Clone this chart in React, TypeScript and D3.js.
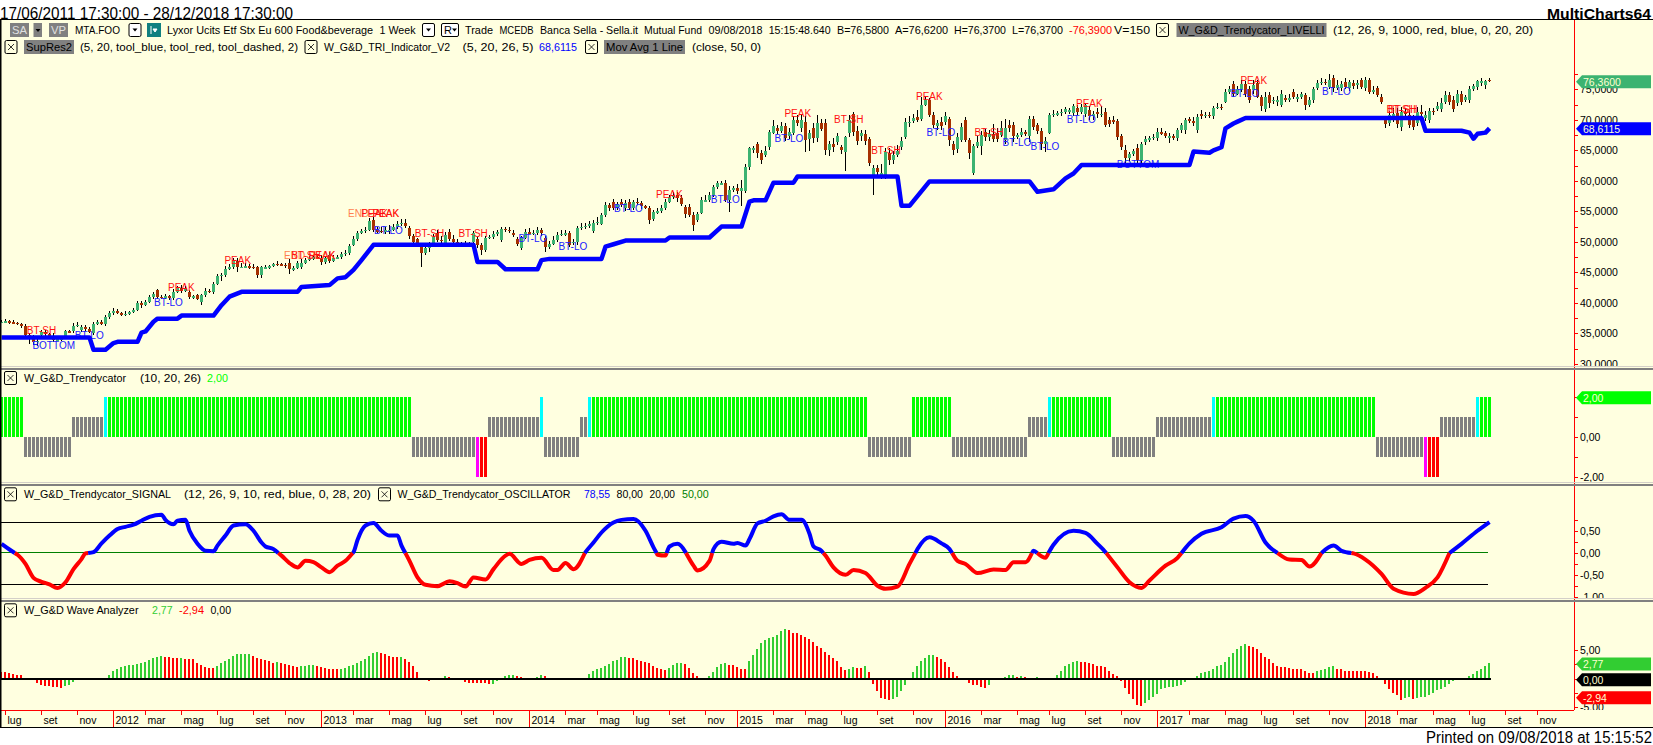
import React from 'react';
import * as d3 from 'd3';

// ---------- price panel ----------
const closes = [
36.9,37.0,36.8,36.7,36.5,36.2,34.7,34.2,33.6,33.8,
35.2,34.9,34.6,33.9,34.0,34.2,35.3,35.2,36.2,36.4,
36.0,35.7,35.2,36.6,36.8,36.6,37.6,38.3,38.7,38.3,
38.1,38.2,38.5,38.9,40.0,39.6,40.2,41.0,41.5,41.0,
40.9,41.1,40.8,41.8,42.4,42.0,42.5,41.0,41.1,40.7,
41.3,42.0,41.8,43.1,44.4,44.6,45.6,45.8,46.8,45.9,
45.9,46.0,45.8,45.8,44.5,45.8,45.8,46.0,46.3,46.3,
46.2,46.0,45.5,45.7,46.6,46.6,47.0,47.2,47.5,47.4,
46.7,47.4,46.9,47.4,47.5,48.0,48.2,49.3,50.5,51.5,
51.8,52.0,53.4,51.9,51.8,51.7,51.9,52.0,52.5,52.9,
53.1,52.6,50.9,50.0,49.8,48.2,49.0,49.7,50.8,50.3,
50.2,51.1,50.4,50.0,49.6,49.7,49.6,49.6,51.4,49.5,
48.6,50.6,50.8,51.2,51.6,52.1,52.0,51.8,51.2,49.7,
50.6,51.6,51.4,51.5,51.9,51.4,49.1,49.7,50.3,51.1,
51.3,51.4,49.5,50.0,52.2,52.5,52.6,52.9,53.1,53.3,
54.4,56.0,55.5,55.5,56.2,56.0,56.4,55.5,56.6,56.3,
55.8,55.6,53.6,54.9,55.0,55.5,56.6,57.4,57.7,57.1,
56.2,54.6,54.4,52.8,54.5,56.8,56.8,57.6,59.0,59.6,
59.6,56.8,58.5,58.8,58.3,58.8,62.3,65.3,65.3,64.5,
63.4,64.9,68.0,69.0,68.2,69.0,67.0,68.0,70.0,69.5,
70.0,66.7,67.9,67.0,69.4,68.5,65.0,66.1,65.5,67.3,
65.1,67.1,69.9,68.0,66.5,67.9,66.5,62.9,62.1,61.5,
61.3,64.8,63.4,64.3,64.9,66.5,69.7,69.7,70.3,70.0,
72.5,73.2,70.8,69.2,69.4,69.0,70.6,66.7,65.0,67.2,
68.9,66.7,64.5,65.7,66.4,67.5,67.2,67.7,66.9,66.8,
68.6,68.6,68.6,67.3,67.5,68.0,67.9,70.1,68.9,68.2,
66.1,66.5,70.8,71.0,71.1,71.3,71.7,71.6,72.2,71.3,
72.1,72.4,70.6,71.0,71.0,71.0,69.2,69.3,69.7,67.2,
65.5,63.7,64.4,64.9,63.4,66.0,66.8,67.0,67.2,68.0,
67.8,67.3,67.3,67.0,68.3,69.2,69.9,69.8,69.7,70.5,
70.6,70.8,70.7,72.0,72.1,71.9,74.6,75.1,74.3,75.0,
75.8,74.3,73.2,75.7,73.8,72.3,73.7,72.7,73.3,73.2,
74.2,73.3,73.6,73.7,73.8,74.2,72.4,73.3,75.0,76.0,
76.2,76.1,76.6,75.2,75.7,75.9,75.4,76.2,75.6,76.0,
75.4,76.5,74.6,74.9,74.1,73.0,69.3,70.8,71.0,69.3,
71.3,71.0,69.2,68.8,71.3,71.0,70.8,71.5,71.3,72.2,
72.8,74.0,73.0,71.7,74.3,73.0,73.7,75.1,75.5,76.4,
76.4,76.4,76.36];

const opens = [
36.8,36.9,37.0,36.8,36.7,36.5,36.2,34.7,34.2,33.6,
34.7,35.2,34.9,34.6,33.9,34.0,34.3,35.3,35.3,36.2,
35.5,36.0,35.7,35.0,36.6,36.8,36.5,37.6,38.3,38.7,
38.3,38.1,38.2,38.5,38.9,40.0,39.6,40.2,41.0,42.1,
41.0,40.9,41.1,40.8,41.8,42.4,42.0,41.8,41.0,41.2,
40.2,41.3,42.0,41.7,43.1,44.4,44.6,45.6,45.8,46.9,
45.9,45.9,46.0,45.9,45.8,44.5,45.8,45.8,46.0,46.4,
46.3,46.2,46.6,45.5,45.7,45.8,46.6,47.0,47.2,47.5,
47.4,46.7,47.8,46.9,47.4,47.5,48.0,48.2,49.5,50.5,
51.5,51.8,52.0,53.5,51.9,51.8,51.7,51.9,52.0,52.5,
52.9,53.1,52.2,50.9,50.4,49.1,48.2,49.0,49.7,51.4,
50.3,49.8,51.6,50.4,50.0,49.6,49.7,49.6,49.9,50.4,
49.5,48.6,50.6,50.8,51.2,50.3,52.1,52.0,51.4,50.5,
49.0,50.6,51.6,51.4,51.5,51.9,50.6,49.1,49.7,50.3,
51.1,51.3,51.4,49.8,50.0,52.2,52.5,52.6,51.8,53.1,
53.0,54.4,56.0,56.6,55.5,56.5,55.5,56.6,55.5,56.6,
56.3,55.8,55.5,53.7,54.9,55.0,55.5,56.6,57.4,57.7,
57.2,55.7,55.7,54.4,53.5,54.8,56.8,56.8,57.6,59.0,
59.6,59.6,56.8,58.5,58.8,58.3,58.4,62.2,65.3,66.0,
64.6,64.3,65.5,67.9,68.7,68.2,69.0,67.3,67.8,70.0,
68.6,69.7,66.9,68.6,67.0,69.4,69.4,65.1,66.1,66.4,
65.5,64.8,67.8,70.9,68.2,67.3,67.7,66.8,61.0,62.1,
60.9,60.9,64.5,63.4,64.3,65.5,67.1,69.5,69.8,70.5,
70.1,72.5,73.2,70.8,69.0,69.6,69.6,70.1,66.0,65.2,
66.7,70.0,66.7,61.2,65.7,65.7,68.0,67.2,67.7,67.9,
67.5,66.7,69.1,69.1,67.3,67.5,68.0,67.3,70.2,69.2,
68.2,66.1,67.8,70.8,71.0,71.1,71.3,71.2,71.1,72.0,
71.3,71.0,71.6,70.7,71.2,71.0,71.3,70.0,70.0,69.8,
67.3,65.0,63.7,64.4,65.3,63.4,66.3,66.8,67.0,67.0,
68.0,67.8,67.1,67.3,67.0,68.3,68.3,70.2,69.8,68.3,
71.0,70.6,70.8,70.6,72.0,72.1,73.0,74.6,75.8,74.3,
75.0,75.8,75.1,74.9,76.1,73.7,71.7,74.0,73.1,73.2,
72.4,73.6,73.3,74.6,73.4,73.8,74.0,72.4,73.2,75.2,
76.0,76.2,75.4,76.8,75.2,75.2,76.2,75.2,76.1,75.7,
76.5,75.2,76.5,74.6,75.2,73.7,70.1,69.4,70.2,71.1,
68.9,71.3,70.8,70.1,69.4,71.3,70.3,70.0,71.5,71.7,
71.7,73.0,74.1,73.3,72.7,74.3,73.2,73.3,75.1,75.4,
76.0,75.7,76.6];

const wickUp = [
.2,.3,.2,.3,.2,.2,.3,.4,.5,.4,
.4,.3,.2,.5,.3,.3,.3,.3,.5,.4,
.4,.3,.3,.3,.3,.3,.4,.3,.5,.3,
.2,.4,.2,.3,.3,.3,.2,.3,.3,.2,
.3,.4,.2,.4,.3,.5,.3,.3,.2,.3,
.2,.4,.3,.3,.3,.3,.4,.5,.5,.4,
.6,.5,.3,.4,.3,.2,.4,.2,.3,.4,
.3,.4,.6,.3,.2,.5,.3,.4,.3,.3,
.4,.3,.5,.4,.3,.3,.4,.4,.5,.3,
.3,.4,.5,.6,.6,.7,.5,.8,.5,.5,
.7,.6,.4,.4,.3,.4,.3,.3,.5,.5,
.6,.5,.5,.7,.4,.3,.5,.4,.4,.4,
.3,.4,.3,.5,.4,.3,.4,.5,.5,.3,
.4,.5,.6,.5,.6,.4,.3,.5,.6,.5,
.7,.5,.3,.4,.4,.6,.5,.5,.4,.7,
.4,.5,.3,.4,.4,.5,.5,.4,.3,.5,
.4,.3,.4,.3,.5,.6,.4,.3,.4,.5,
.5,.4,.5,.5,.4,.6,.9,.5,.3,.4,
.3,.6,.6,.4,.6,1.4,.4,.3,.4,.4,
.5,.8,.3,.9,.5,.7,.5,.6,.7,.8,
.9,1.0,.4,.8,1.4,.8,.7,.5,.9,.6,
.3,.3,.9,.4,.8,.5,.6,.3,.5,.5,
1.4,.5,.9,.6,.9,.6,.6,.9,.6,1.1,
1.3,.6,.4,.5,.6,.9,.6,.4,.5,.6,
.5,.4,.3,.4,.9,.6,.5,.7,1.6,.7,
1.2,1.5,.9,.6,.4,.6,.4,.5,.5,.3,
.4,.6,.3,.6,.4,.5,.4,.3,.4,.5,
.5,.4,.6,.4,.8,1.2,.6,.4,.6,.4,
.3,.8,.4,.3,.7,.3,.6,.3,.4,.6,
.7,.3,.5,.3,.4,.3,.4,.3,.6,.5,
.6,.4,.4,.3,.7,.5,.4,.5,.6,.6,
.7,.5,.4,.9,.4,.3,.8,.5,.5,.7,
.7,.4,.6,.4,.5,.3,.4,.5,.3,.5,
.6,.5,.9,.5,.8,.5,.7,.4,.5,.5,
.4,.5,.4,.6,.4,.5,.6,.7,.9,.8,
.8,.6,.8,.7,.8,1.2,.6,.5,.4,.7,
.7,.7,.5,.6,.6,.5,.4,.4,.4,.2,
.4,.2,.3];

const wickDown = [
.1,.2,.3,.2,.1,.3,.3,.9,.5,.6,
.3,.5,.3,.4,.2,.3,.2,.2,.3,.2,
.3,.3,.2,.3,.3,.2,.3,.2,.3,.2,
.2,.3,.2,.2,.3,.4,.2,.3,.4,.3,
.3,.2,.3,.3,.2,.4,.2,.3,.4,.3,
.6,.3,.2,.2,.2,.8,.3,.3,.2,.8,
.2,.2,.3,.2,.4,.5,.2,.3,.2,.2,
.2,.3,.7,.3,.2,.3,.3,.2,.2,.2,
.5,.3,.4,.2,.3,.3,.3,.4,.2,.3,
.2,.3,.3,.3,.4,.3,.5,.6,.3,.4,
.3,.4,.4,.2,.3,2.3,.3,.6,.3,.3,
.5,.4,.3,.3,.2,.5,.3,.3,.3,.5,
.7,.3,.2,.3,.3,.3,.4,.3,.4,.4,
.3,.2,.2,.3,.4,.4,.8,.3,.3,.4,
.2,.3,.3,.3,.5,.3,.4,.3,.4,.3,
.3,.4,.5,.3,.3,.3,.4,.3,.3,.3,
.4,.3,.6,.3,.3,.3,.3,.3,.4,.5,
.4,.7,.3,1.1,.3,.3,.3,.2,.3,.3,
.3,.3,1.9,.3,.4,2.5,.4,.5,.7,.7,
.6,.4,.4,.3,.6,.4,.4,.5,.3,.5,
.6,1.9,2.0,.8,.6,.4,.8,1.0,.8,.5,
.7,3.2,.6,.6,.7,.7,.6,.4,3.4,.5,
.6,.6,.8,.6,.4,.5,.3,.7,.3,.4,
.3,.3,.4,.5,.6,.6,.5,1.0,.8,.7,
.4,.4,.9,.3,.4,1.5,.7,.6,.5,.5,
.4,.7,.6,1.0,.5,.4,.6,.9,.5,.6,
1.0,1.3,.2,.3,.3,.4,.3,.3,.4,.5,
.4,.5,.6,.8,.7,.5,.4,.4,.4,.5,
.5,.7,.4,.4,.5,.4,.4,.4,.3,.5,
.3,.3,.9,.3,.5,.4,.7,.4,.7,.4,
.4,.3,.4,.5,.3,.3,.3,.3,.5,.3,
.4,.5,.5,.7,.3,.8,.4,.7,.5,.9,
.3,.4,.4,.3,.4,.4,.8,.3,.4,.3,
.3,.4,.3,.6,.3,.4,.3,.5,.5,.6,
.3,.4,.3,.3,.4,.4,.6,.4,.5,.6,
.7,.4,.6,.4,.4,.3,.5,.6,.5,.3,
.4,.4,.6,.4,.5,.5,.3,.6,.3,.5,
.5,.6,.2];

const triBars = [0,22,23,26,28,29,34,35,36,38,39,44,45,53,55,57,60,74,75,82,84,86,88,90,93,118,119,124,126,134,135,137,150,151,153,156,166,167,177,180,185,187,188,191,193,198,199,224,225,227,232,257,259,263,266,268,270,297,298,302,303,305,306,308,309,311,355,356,365,367,368,369,371,372];
const triValues = [34.3,34.3,32.3,32.3,33.4,33.6,33.6,35.1,35.3,36.9,37.4,37.4,37.9,37.9,39.6,41,41.8,41.8,42.6,42.9,44,44.2,45.4,47,49.5,49.5,46.7,46.7,45.5,45.5,47,47.2,47.2,49.2,49.6,50.2,50.2,50.7,50.7,52.5,52.5,56.6,56.8,56.8,59.7,59.7,60.7,60.7,55.9,55.9,59.9,59.9,58.2,58.6,60.4,61.2,62.6,62.6,64.8,64.6,65,65.5,68.6,69.4,69.7,70.3,70.3,68.2,68.2,67.9,66.9,67.7,67.9,68.6];

const signalTexts = ['BT-SH','BOTTOM','BT-LO','BT-LO','PEAK','PEAK','END-PEAK','BT-SH','PEAK','END-PEAK','PEAK','PEAK','BT-LO','BT-SH','BT-SH','BT-LO','BT-LO','BT-LO','PEAK','BT-LO','BT-LO','PEAK','BT-SH','BT-SH','PEAK','BT-LO','BT-SH','BT-LO','BT-LO','BT-LO','PEAK','BOTTOM','PEAK','BT-LO','BT-LO','BT-SH','BT-SH'];
const signalBars = [6.7,8.1,18.7,38.5,42,56.1,71,72.8,77.2,87,90.3,93.1,93.5,103.7,114.6,129.6,139.6,153.5,164,177.7,193.6,196.1,208.5,217.8,229,231.6,243.6,250.6,257.6,266.7,269,279.2,310.1,307.6,330.5,346.6,347];
const signalPrices = [35.4,33,34.7,40.1,42.5,47,47.8,47.8,47.8,54.6,54.6,54.6,51.8,51.3,51.3,50.6,49.3,55.5,57.8,57,67,71,70.1,65,73.9,68,68,66.3,65.6,70,72.6,62.6,76.5,74.3,74.6,71.7,71.7];

// ---------- trend panel ----------
const trendRunKinds = ['up','weakDown','weakUp','turnUp','up','weakDown','turnDown','down','weakUp','turnUp','weakDown','weakUp','turnUp','up','weakDown','up','weakDown','weakUp','turnUp','up','weakDown','weakUp','turnUp','up','weakDown','turnDown','down','weakUp','turnUp','up'];
const trendRunLengths = [6,12,8,1,76,16,1,2,13,1,9,2,1,69,11,10,19,5,1,15,11,14,1,40,12,1,3,9,1,3];
const trendKindValue: Record<string, number> = { up: 2, weakUp: 1, turnUp: 2, weakDown: -1, turnDown: -2, down: -2 };
const trendKindColor: Record<string, string> = { up: '#00ff00', weakUp: '#808080', turnUp: '#00ffff', weakDown: '#808080', turnDown: '#ff00ff', down: '#ff0000' };

// ---------- signal panel ----------
const signalLineBars = [0,2,4,6,8,10,12,14,16,18,20,21,23,25,27,29,31,33,35,37,40,41,43,44,46,47,49,51,53,54,56,58,61,63,65,66,68,70,72,74,76,78,80,82,84,86,88,89,91,93,95,97,99,100,102,104,106,109,112,114,116,118,121,123,126,127,130,132,135,138,139,141,143,146,148,150,153,155,158,161,163,164,166,167,169,171,173,174,177,178,180,183,184,186,187,189,191,193,195,197,200,202,203,205,206,208,211,213,216,219,221,224,227,229,232,235,237,239,241,244,248,251,253,256,258,261,263,268,271,274,276,279,282,285,287,291,294,297,300,305,308,311,313,316,319,322,325,327,330,333,335,338,341,345,348,353,356,359,362,365,369,372];
const signalLineValues = [.21,.08,-.04,-.25,-.57,-.66,-.72,-.8,-.67,-.37,-.14,-.01,.02,.22,.4,.55,.6,.65,.74,.83,.88,.76,.66,.74,.76,.51,.21,.05,.04,.17,.4,.63,.66,.51,.24,.15,.09,-.06,-.23,-.33,-.18,-.21,-.33,-.44,-.29,-.18,.02,.3,.63,.69,.51,.4,.4,.17,-.18,-.56,-.73,-.76,-.65,-.69,-.77,-.56,-.61,-.37,-.06,-.02,-.25,-.16,-.11,-.39,-.39,-.23,-.37,.02,.24,.47,.7,.76,.78,.51,.13,-.04,-.06,.15,.21,.02,-.29,-.4,-.18,.09,.26,.21,.23,.17,.32,.68,.74,.84,.89,.76,.76,.44,.15,.05,-.06,-.33,-.5,-.39,-.46,-.75,-.82,-.77,-.25,.09,.36,.22,.09,-.18,-.25,-.46,-.38,-.39,-.21,-.21,.05,-.11,.19,.51,.46,.21,.02,-.33,-.67,-.8,-.63,-.29,-.11,.22,.44,.59,.79,.85,.74,.24,0,-.15,-.16,-.31,0,.17,.05,-.01,-.15,-.48,-.82,-.94,-.8,-.56,0,.21,.51,.71];
const signalLevels = [0.7, -0.7];

// ---------- wave panel ----------
const waveValues = [
1.22,1.10,.93,.81,.70,.58,.17,0,-.29,-.70,
-1.16,-1.28,-1.28,-1.40,-1.45,-1.57,-1.34,-1.05,-.58,-.23,
0,0,0,0,0,0,.17,.70,1.28,1.69,
2.03,2.21,2.33,2.38,2.56,2.73,2.97,3.26,3.60,3.78,
3.90,3.84,3.72,3.66,3.60,3.66,3.49,3.37,3.37,2.79,
2.44,2.09,1.92,1.92,2.21,2.67,3.14,3.49,3.90,4.24,
4.30,4.30,4.30,3.95,3.60,3.37,3.31,3.02,2.79,2.91,
2.67,2.56,2.33,2.21,2.09,2.15,2.21,2.33,2.33,2.15,
2.03,1.92,1.74,1.63,1.63,1.74,1.92,2.15,2.38,2.67,
3.02,3.49,3.95,4.42,4.65,4.53,4.30,3.90,3.72,3.72,
3.78,3.49,2.91,2.21,1.16,0,-.23,-.47,0,0,
.17,.41,.23,0,0,-.29,-.58,-.70,-.70,-.70,
-.70,-.70,-.93,-.87,-.47,0,.47,.58,.64,.47,
.35,0,0,.17,.35,.70,.47,.17,0,0,
0,0,0,0,0,0,.17,.76,1.28,1.63,
1.86,2.15,2.56,3.02,3.31,3.78,3.78,3.60,3.60,3.26,
3.14,2.91,2.67,2.21,1.86,1.69,1.57,1.86,2.33,2.67,
2.67,2.56,1.86,.99,.41,0,0,.41,1.16,2.03,
2.56,2.67,2.33,2.33,2.09,1.74,1.74,3.02,4.07,5.11,
6.16,6.74,7.09,7.32,7.67,8.25,8.60,8.42,7.96,7.90,
7.55,7.32,6.86,6.39,5.69,5.35,4.65,4.18,3.60,3.02,
2.03,1.51,1.74,2.09,1.92,1.92,2.15,1.16,-.87,-2.09,
-3.31,-3.60,-3.78,-3.60,-3.20,-2.21,-1.16,0,1.16,2.15,
3.02,3.60,4.07,4.07,3.72,3.49,2.91,1.98,1.16,.47,
.17,0,-.70,-1.05,-1.10,-1.40,-1.57,-1.05,-.17,0,
0,.23,.58,.58,.23,.47,.23,0,0,.23,
0,0,0,0,.58,1.28,2.15,2.56,2.91,3.08,
2.91,2.91,2.73,2.56,2.21,2.21,1.98,1.28,.90,.41,
-.35,-1.63,-2.62,-3.49,-4.65,-4.71,-4.24,-3.66,-3.20,-2.62,
-1.74,-1.57,-1.40,-1.40,-1.28,-1.05,-.58,0,.17,.47,
.93,1.10,1.40,1.74,2.21,2.44,2.91,3.84,4.42,5.11,
5.64,6.04,5.64,5.46,5.23,4.42,3.78,3.37,2.67,2.21,
2.09,2.09,1.86,1.74,1.74,1.63,1.40,1.05,1.05,1.28,
1.51,1.74,2.09,2.21,1.74,1.74,1.40,1.40,1.28,1.28,
1.28,1.28,1.16,.93,.47,0,-.87,-1.74,-2.56,-2.91,
-3.78,-3.31,-3.25,-3.49,-3.31,-3.20,-3.14,-2.79,-2.44,-1.98,
-1.74,-1.45,-.87,-.41,0,0,0,.41,.87,1.28,
1.74,2.21,2.77];

// ---------- axes ----------
const priceTicks = [75,70,65,60,55,50,45,40,35,30];
const priceMinorTicks = [77.5,75,72.5,70,67.5,65,62.5,60,57.5,55,52.5,50,47.5,45,42.5,40,37.5,35,32.5,30];
const trendLabelTicks = [0,-2];
const trendMinorTicks = [2,1,0,-1,-2];
const signalLabelTicks = [0.5,0,-0.5,-1];
const signalMinorTicks = [0.75,0.5,0.25,0,-0.25,-0.5,-0.75,-1];
const waveLabelTicks = [5,-5];
const waveMinorTicks = [5,2.5,0,-2.5,-5];
const monthNames = ['', '', 'mar', '', 'mag', '', 'lug', '', 'set', '', 'nov', ''];
const firstBarDate = new Date(Date.UTC(2011, 5, 24));
const axisBarCount = 392;

const FONT = "'Liberation Sans', Arial, sans-serif";
const BG = '#ffffe0';
const axisRight = 1574;

const xEdge = d3.scaleLinear().domain([0, 1]).range([0, 4]);
const xMid = (k: number) => xEdge(k) + 1.5;
const yPrice = d3.scaleLinear().domain([75, 30]).range([89.3, 363.8]);
const yTrend = d3.scaleLinear().domain([2, -2]).range([397, 477]);
const ySignal = d3.scaleLinear().domain([1, -1]).range([509.4, 596.6]);
const yWave = d3.scaleLinear().domain([5, -5]).range([650, 707.4]);

const comma = (v: number, d: number) => v.toFixed(d).replace('.', ',');

type TP = { x: number; y: number; len?: number; fill?: string; size?: number; weight?: string; anchor?: string; children: any };
const T = ({ x, y, len, fill = '#000', size = 11, weight, anchor, children }: TP) => (
  <text x={x} y={y} fill={fill} fontSize={size} fontWeight={weight} textAnchor={anchor as any} dominantBaseline="central" fontFamily={FONT}
    {...(len ? { textLength: len, lengthAdjust: 'spacingAndGlyphs' } : {})}>{children}</text>
);

const XBox = ({ x, y, w = 13 }: { x: number; y: number; w?: number }) => (
  <g>
    <rect x={x + 0.5} y={y - 6.5} width={w - 1} height={13} rx={1.5} fill="none" stroke="#000" />
    <path d={`M${x + w / 2 - 3},${y - 3}L${x + w / 2 + 3},${y + 3}M${x + w / 2 + 3},${y - 3}L${x + w / 2 - 3},${y + 3}`} stroke="#000" strokeWidth={0.8} />
  </g>
);
const Gray = ({ x, y, w, text, color = '#808080', fg = '#000', len }: any) => (
  <g>
    <rect x={x} y={y - 7} width={w} height={14} fill={color} />
    <T x={x + 2} y={y} fill={fg} len={len ?? w - 4}>{text}</T>
  </g>
);
const Drop = ({ x, y, w = 12 }: { x: number; y: number; w?: number }) => (
  <g>
    <rect x={x + 0.5} y={y - 6.5} width={w} height={13} rx={1.5} fill="#fff" stroke="#000" />
    <path d={`M${x + w / 2 - 2},${y - 1.5}h5l-2.5,3z`} fill="#000" />
  </g>
);
const Tag = ({ y, color, text }: { y: number; color: string; text: string }) => (
  <g>
    <path d={`M1576,${y}L1582,${y - 6.5}H1651V${y + 6.5}H1582Z`} fill={color} />
    <T x={1583} y={y} fill="#ffffd0" size={10.5}>{text}</T>
  </g>
);

export default function App() {
  const bars = closes.map((c, k) => ({
    k, c, o: opens[k],
    hi: Math.max(c, opens[k]) + wickUp[k],
    lo: Math.min(c, opens[k]) - wickDown[k],
  }));

  const triLine = d3.line<number>().x((_, i) => xMid(triBars[i])).y(v => yPrice(v));

  const trendBars: { k: number; v: number; color: string }[] = [];
  {
    let k = 0;
    trendRunKinds.forEach((kind, r) => {
      d3.range(trendRunLengths[r]).forEach(() => {
        trendBars.push({ k, v: trendKindValue[kind], color: trendKindColor[kind] });
        k += 1;
      });
    });
  }

  // split signal line by sign so each stretch has one colour
  const sigRuns: { color: string; pts: [number, number][] }[] = [];
  signalLineValues.forEach((v, i) => {
    const k = signalLineBars[i];
    const pos = v >= 0;
    const color = pos ? '#0000ff' : '#ff0000';
    const last = sigRuns[sigRuns.length - 1];
    if (!last) { sigRuns.push({ color, pts: [[k, v]] }); return; }
    if (last.color === color) { last.pts.push([k, v]); return; }
    const [pk, pv] = last.pts[last.pts.length - 1];
    const cross = pk + (k - pk) * (pv / (pv - v));
    last.pts.push([cross, 0]);
    sigRuns.push({ color, pts: [[cross, 0], [k, v]] });
  });
  const sigLine = d3.line<[number, number]>().x(d => xMid(d[0])).y(d => ySignal(d[1])).curve(d3.curveMonotoneX);

  let lastWaveColor = '#ff0000';
  const waveBars = waveValues.map((v, k) => {
    const prev = k > 0 ? waveValues[k - 1] : v + 1;
    if (v > prev) lastWaveColor = '#32cd32';
    else if (v < prev) lastWaveColor = '#ff0000';
    return { k, v, color: lastWaveColor };
  });

  const axisTicks: { k: number; label: string; year: boolean }[] = [];
  d3.range(axisBarCount).forEach(k => {
    const d = d3.utcDay.offset(firstBarDate, k * 7);
    const prev = d3.utcDay.offset(d, -7);
    if (d.getUTCMonth() !== prev.getUTCMonth() && d.getUTCMonth() % 2 === 0) {
      const year = d.getUTCMonth() === 0;
      axisTicks.push({ k, year, label: year ? String(d.getUTCFullYear()) : monthNames[d.getUTCMonth()] });
    }
  });
  // first bar opens July 2011
  const axisAll = [{ k: 1, year: false, label: 'lug' }, ...axisTicks.filter(t => t.k > 1)];

  const minor = (vals: number[], sc: (v: number) => number, key: string) => vals.map(v => (
    <line key={key + v} x1={axisRight} x2={axisRight + 4} y1={Math.round(sc(v)) + 0.5} y2={Math.round(sc(v)) + 0.5} stroke="#ff0000" shapeRendering="crispEdges" />
  ));

  return (
    <svg width={1653} height={745} style={{ position: 'absolute', left: 0, top: 0, display: 'block', background: '#fff' }}>
      <defs>
        <clipPath id="pP"><rect x={0} y={20} width={1653} height={346} /></clipPath>
        <clipPath id="pT"><rect x={0} y={369} width={1653} height={113} /></clipPath>
        <clipPath id="pS"><rect x={0} y={485} width={1653} height={113} /></clipPath>
        <clipPath id="pW"><rect x={0} y={601} width={1653} height={109} /></clipPath>
      </defs>

      <T x={0} y={13} size={16} len={293}>17/06/2011 17:30:00 - 28/12/2018 17:30:00</T>
      <T x={1547} y={13} size={15} weight="bold" len={104}>MultiCharts64</T>
      <T x={1426} y={737} size={16} len={226}>Printed on 09/08/2018 at 15:15:52</T>

      <rect x={0} y={19} width={1653} height={708} fill={BG} />
      <line x1={0} x2={1653} y1={19.5} y2={19.5} stroke="#000" />
      <line x1={0} x2={1653} y1={727.5} y2={727.5} stroke="#000" />

      {/* price panel */}
      <g clipPath="url(#pP)">
        <g shapeRendering="crispEdges">
          {bars.map(b => (
            <g key={b.k}>
              <line x1={xEdge(b.k) + 1.5} x2={xEdge(b.k) + 1.5} y1={yPrice(b.hi)} y2={yPrice(b.lo)} stroke="#000" />
              <rect x={xEdge(b.k)} width={3}
                y={yPrice(Math.max(b.o, b.c))}
                height={Math.max(1.5, Math.abs(yPrice(b.o) - yPrice(b.c)))}
                fill={b.c >= b.o ? '#3cb371' : '#a63000'} />
            </g>
          ))}
        </g>
        {signalTexts.map((t, i) => (
          <T key={i} x={xEdge(signalBars[i])} y={yPrice(signalPrices[i])} size={10}
            fill={t === 'END-PEAK' ? '#ff7f50' : t === 'BT-LO' || t === 'BOTTOM' ? '#2020ff' : '#ff1010'}>{t}</T>
        ))}
        <path d={triLine(triValues) ?? ''} fill="none" stroke="#0000ff" strokeWidth={4.5} strokeLinejoin="round" />
        {priceTicks.map(v => <T key={v} x={1580} y={yPrice(v)} size={10.5}>{comma(v, 4)}</T>)}
        {minor(priceMinorTicks, yPrice, 'p')}
      </g>

      {/* trend panel */}
      <g clipPath="url(#pT)" shapeRendering="crispEdges">
        {trendBars.map(b => (
          <rect key={b.k} x={xEdge(b.k)} width={3} fill={b.color}
            y={Math.min(yTrend(0), yTrend(b.v))} height={Math.abs(yTrend(b.v) - yTrend(0))} />
        ))}
        {trendLabelTicks.map(v => <T key={v} x={1580} y={yTrend(v)} size={10.5}>{comma(v, 2)}</T>)}
        {minor(trendMinorTicks, yTrend, 't')}
      </g>

      {/* signal panel */}
      <g clipPath="url(#pS)">
        {signalLevels.map(v => (
          <line key={v} x1={0} x2={xEdge(372)} y1={Math.round(ySignal(v)) + 0.5} y2={Math.round(ySignal(v)) + 0.5} stroke="#000" shapeRendering="crispEdges" />
        ))}
        <line x1={0} x2={xEdge(372)} y1={Math.round(ySignal(0)) - 0.5} y2={Math.round(ySignal(0)) - 0.5} stroke="#008000" shapeRendering="crispEdges" />
        {sigRuns.map((r, i) => (
          <path key={i} d={sigLine(r.pts) ?? ''} fill="none" stroke={r.color} strokeWidth={4} strokeLinecap="butt" strokeLinejoin="round" />
        ))}
        {signalLabelTicks.map(v => <T key={v} x={1580} y={ySignal(v)} size={10.5}>{comma(v, 2)}</T>)}
        {minor(signalMinorTicks, ySignal, 's')}
      </g>

      {/* wave panel */}
      <g clipPath="url(#pW)">
        <g shapeRendering="crispEdges">
          {waveBars.map(b => (
            <rect key={b.k} x={xEdge(b.k)} width={2} fill={b.color}
              y={Math.min(yWave(0), yWave(b.v))} height={Math.abs(yWave(b.v) - yWave(0))} />
          ))}
          <rect x={0} width={xEdge(372) + 3} y={Math.round(yWave(0)) - 1} height={2} fill="#000" />
        </g>
        {waveLabelTicks.map(v => <T key={v} x={1580} y={yWave(v)} size={10.5}>{comma(v, 2)}</T>)}
        {minor(waveMinorTicks, yWave, 'w')}
      </g>

      {/* axes */}
      <g shapeRendering="crispEdges">
        <line x1={axisRight + 0.5} x2={axisRight + 0.5} y1={20} y2={710} stroke="#ff0000" />
        <line x1={0} x2={axisRight} y1={710.5} y2={710.5} stroke="#ff0000" />
      </g>
      {axisAll.map(t => (
        <g key={t.k}>
          <line x1={xEdge(t.k) + 1.5} x2={xEdge(t.k) + 1.5} y1={710} y2={t.year ? 727 : 715} stroke="#ff0000" shapeRendering="crispEdges" />
          <T x={xEdge(t.k) + 3.5} y={720} size={10.5}>{t.label}</T>
        </g>
      ))}

      {/* panel separators */}
      {[366, 482, 598].map(y => (
        <g key={y} shapeRendering="crispEdges">
          <rect x={0} y={y} width={1653} height={1} fill="#d4d0c8" />
          <rect x={0} y={y + 2} width={1653} height={2} fill="#808080" />
        </g>
      ))}
      <rect x={0} y={20} width={1.5} height={707} fill="#000" />

      {/* value tags */}
      <Tag y={81.7} color="#3cb371" text="76,3600" />
      <Tag y={128.7} color="#0000ff" text="68,6115" />
      <Tag y={397.7} color="#00ff00" text="2,00" />
      <Tag y={664} color="#32cd32" text="2,77" />
      <Tag y={679.7} color="#000000" text="0,00" />
      <Tag y={697.7} color="#ff0000" text="-2,94" />

      {/* header row 1 */}
      <Gray x={10} y={30} w={19} text="SA" fg="#e0e0e0" />
      <rect x={33.5} y={23} width={8.5} height={14} fill="#808080" />
      <path d="M35.5,29h5l-2.5,3z" fill="#000" />
      <Gray x={49} y={30} w={19} text="VP" fg="#e0e0e0" />
      <T x={75} y={30} len={45}>MTA.FOO</T>
      <Drop x={128.5} y={30} />
      <rect x={147} y={23} width={14} height={14} fill="#108080" />
      <path d="M151,26v8M153,29h4l-2,3z" stroke="#fff" fill="#fff" />
      <T x={167} y={30} len={206}>Lyxor Ucits Etf Stx Eu 600 Food&amp;beverage</T>
      <T x={379.5} y={30} len={36}>1 Week</T>
      <Drop x={422} y={30} />
      <rect x={441.5} y={23.5} width={17} height={13} rx={1.5} fill="#fff" stroke="#000" />
      <T x={444} y={30}>R</T>
      <path d="M452,28.5h5l-2.5,3z" fill="#000" />
      <T x={465} y={30} len={28}>Trade</T>
      <T x={499.5} y={30} len={34}>MCEDB</T>
      <T x={540} y={30} len={98}>Banca Sella - Sella.it</T>
      <T x={644} y={30} len={58}>Mutual Fund</T>
      <T x={708.5} y={30} len={54}>09/08/2018</T>
      <T x={768.7} y={30} len={62}>15:15:48.640</T>
      <T x={837} y={30} len={52}>B=76,5800</T>
      <T x={895} y={30} len={53}>A=76,6200</T>
      <T x={954} y={30} len={52}>H=76,3700</T>
      <T x={1012} y={30} len={51}>L=76,3700</T>
      <T x={1069} y={30} len={43} fill="#ff0000">-76,3900</T>
      <T x={1114} y={30} len={36}>V=150</T>
      <XBox x={1156} y={30} />
      <Gray x={1176.5} y={30} w={150} text="W_G&D_Trendycator_LIVELLI" />
      <T x={1333} y={30} len={200}>(12,  26,  9,  1000,  red,  blue,  0,  20,  20)</T>

      {/* header row 2 */}
      <XBox x={4.5} y={47} />
      <Gray x={24} y={47} w={50} text="SupRes2" />
      <T x={80} y={47} len={218}>(5,  20,  tool_blue,  tool_red,  tool_dashed,  2)</T>
      <XBox x={304.5} y={47} />
      <T x={324} y={47} len={126}>W_G&amp;D_TRI_Indicator_V2</T>
      <T x={462.5} y={47} len={71}>(5,  20,  26,  5)</T>
      <T x={539} y={47} len={38} fill="#0000ff">68,6115</T>
      <XBox x={585} y={47} />
      <Gray x={604} y={47} w={81} text="Mov Avg 1 Line" />
      <T x={692} y={47} len={69}>(close,  50,  0)</T>

      {/* panel titles */}
      <XBox x={4} y={378} />
      <T x={24} y={378} len={102}>W_G&amp;D_Trendycator</T>
      <T x={140} y={378} len={61}>(10,  20,  26)</T>
      <T x={207} y={378} len={21} fill="#00ff00">2,00</T>

      <XBox x={4} y={494.3} />
      <T x={24} y={494.3} len={147}>W_G&amp;D_Trendycator_SIGNAL</T>
      <T x={184} y={494.3} len={187}>(12,  26,  9,  10,  red,  blue,  0,  28,  20)</T>
      <XBox x={378} y={494.3} />
      <T x={397.5} y={494.3} len={173}>W_G&amp;D_Trendycator_OSCILLATOR</T>
      <T x={584} y={494.3} len={26} fill="#0000ff">78,55</T>
      <T x={616.6} y={494.3} len={26.4}>80,00</T>
      <T x={649.5} y={494.3} len={25.5}>20,00</T>
      <T x={682} y={494.3} len={26.7} fill="#008000">50,00</T>

      <XBox x={4} y={610.3} />
      <T x={24} y={610.3} len={114.5}>W_G&amp;D Wave Analyzer</T>
      <T x={152} y={610.3} len={20.6} fill="#32cd32">2,77</T>
      <T x={179} y={610.3} len={25} fill="#ff0000">-2,94</T>
      <T x={210.5} y={610.3} len={20.5}>0,00</T>
    </svg>
  );
}
